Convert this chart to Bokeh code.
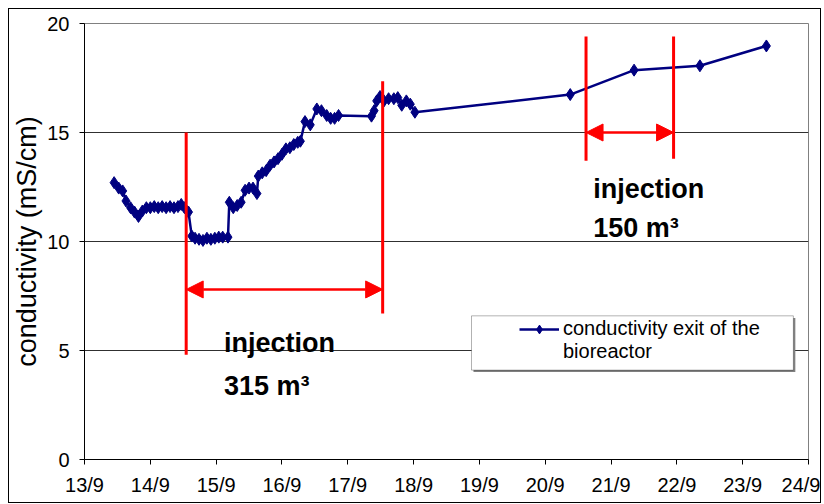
from bokeh.plotting import figure
from bokeh.models import (FixedTicker, Legend, LegendItem, Arrow, NormalHead,
                          ColumnDataSource, Range1d, BoxAnnotation)
from bokeh.core.properties import value
from bokeh.embed import file_html
from bokeh.resources import INLINE

# ---- data (day of September, conductivity mS/cm) ----
day = [13.45, 13.52, 13.58, 13.63, 13.70, 13.76, 13.82, 13.88, 13.94, 14.00,
       14.06, 14.12, 14.18, 14.24, 14.30, 14.36, 14.42, 14.47, 14.52, 14.58,
       14.63, 14.68, 14.74, 14.80, 14.86, 14.92, 14.98, 15.04, 15.10, 15.18,
       15.20, 15.26, 15.32, 15.38, 15.44, 15.50, 15.56, 15.62, 15.64, 15.70,
       15.76, 15.82, 15.88, 15.94, 16.00, 16.06, 16.12, 16.18, 16.24, 16.28,
       16.35, 16.43, 16.53, 16.60, 16.68, 16.74, 16.80, 16.86, 17.36, 17.40,
       17.44, 17.49, 17.55, 17.62, 17.70, 17.76, 17.82, 17.89, 17.95, 18.02,
       20.38, 21.35, 22.35, 23.36]
conductivity = [12.70, 12.45, 12.32, 11.86, 11.55, 11.35, 11.15, 11.40, 11.55, 11.55,
                11.60, 11.55, 11.60, 11.55, 11.60, 11.55, 11.60, 11.70, 11.55, 11.35,
                10.25, 10.15, 10.10, 10.05, 10.15, 10.10, 10.15, 10.20, 10.20, 10.20,
                11.80, 11.55, 11.65, 11.80, 12.35, 12.45, 12.45, 12.20, 13.00, 13.15,
                13.25, 13.50, 13.65, 13.80, 14.00, 14.25, 14.30, 14.45, 14.55, 14.60,
                15.50, 15.35, 16.08, 16.00, 15.78, 15.65, 15.65, 15.78, 15.75, 16.00,
                16.45, 16.65, 16.45, 16.55, 16.55, 16.60, 16.25, 16.45, 16.30, 15.93,
                16.74, 17.86, 18.06, 18.97]

x_ticks = list(range(13, 25))
x_tick_labels = ["13/9", "14/9", "15/9", "16/9", "17/9", "18/9",
                 "19/9", "20/9", "21/9", "22/9", "23/9", "24/9"]
y_ticks = [0, 5, 10, 15, 20]
y_grid = [5, 10, 15]

# injection periods: start, end, y-extent of start/end markers, arrow level
inj_start = [14.545, 20.62]
inj_end = [17.53, 21.95]
start_bottom = [4.8, 13.7]
start_top = [15.0, 19.4]
end_bottom = [6.7, 13.8]
end_top = [17.35, 19.4]
arrow_y = [7.8, 15.0]
inj_text_x = [15.12, 20.73]
inj_text_y1 = [5.35, 12.4]
inj_text_y2 = [3.36, 10.6]
inj_label1 = ["injection", "injection"]
inj_label2 = ["315 m\u00b3", "150 m\u00b3"]

legend_label = ["conductivity exit of the", "bioreactor"]

FONT = "Liberation Sans"
NAVY = "#000080"
RED = "#FF0000"

p = figure(width=813, height=495, output_backend="svg", toolbar_location=None,
           x_range=Range1d(13, 24), y_range=Range1d(0, 20),
           min_border_left=71, min_border_right=14, min_border_top=14,
           min_border_bottom=45,
           styles={"border": "1px solid black", "box-sizing": "border-box",
                   "margin-left": "8px", "margin-top": "8px"})
p.background_fill_color = "white"
p.border_fill_color = "white"
p.outline_line_color = "#808080"
p.outline_line_width = 1

p.xgrid.visible = False
p.ygrid.ticker = FixedTicker(ticks=y_grid)
p.ygrid.grid_line_color = "#303030"
p.ygrid.grid_line_width = 1

p.xaxis.ticker = FixedTicker(ticks=x_ticks)
p.xaxis.major_label_overrides = {t: l for t, l in zip(x_ticks, x_tick_labels)}
p.yaxis.ticker = FixedTicker(ticks=y_ticks)
for ax in (p.xaxis, p.yaxis):
    ax.axis_line_color = "black"
    ax.major_tick_line_color = "black"
    ax.major_tick_out = 5
    ax.major_tick_in = 0
    ax.minor_tick_line_color = None
    ax.major_label_text_font = FONT
    ax.major_label_text_font_size = "20px"
    ax.major_label_text_color = "black"
p.xaxis.major_label_standoff = 9
p.yaxis.major_label_standoff = 10
p.yaxis.axis_label = "conductivity (mS/cm)"
p.yaxis.axis_label_text_font = FONT
p.yaxis.axis_label_text_font_size = "27px"
p.yaxis.axis_label_text_font_style = "normal"
p.yaxis.axis_label_text_color = "black"
p.yaxis.axis_label_standoff = 2

# legend frame with shadow (drawn behind the legend)
p.add_layout(BoxAnnotation(left=18.91, right=23.80, bottom=4.01, top=6.49,
                           fill_color="#808080", fill_alpha=1,
                           line_color=None, level="annotation"))
p.add_layout(BoxAnnotation(left=18.88, right=23.77, bottom=4.10, top=6.59,
                           fill_color="white", fill_alpha=1,
                           line_color="black", line_width=1,
                           level="annotation"))

src = ColumnDataSource(dict(x=day, y=conductivity))
lr = p.line("x", "y", source=src, line_color=NAVY, line_width=2.5)
sr = p.scatter("x", "y", source=src, marker="diamond", size=12,
               fill_color=NAVY, line_color=NAVY)
# invisible renderer for the second legend line
blank = p.scatter(x=[], y=[], size=1, fill_alpha=0, line_alpha=0)

# injection markers
p.segment(x0=inj_start, y0=start_bottom, x1=inj_start, y1=start_top,
          line_color=RED, line_width=3)
p.segment(x0=inj_end, y0=end_bottom, x1=inj_end, y1=end_top,
          line_color=RED, line_width=3)
for xs, xe, ya in zip(inj_start, inj_end, arrow_y):
    p.add_layout(Arrow(x_start=xs, y_start=ya, x_end=xe, y_end=ya,
                       line_color=RED, line_width=2.5,
                       start=NormalHead(size=17, fill_color=RED, line_color=RED),
                       end=NormalHead(size=17, fill_color=RED, line_color=RED)))

p.text(x=inj_text_x, y=inj_text_y1, text=inj_label1, text_font=value(FONT),
       text_font_size="27px", text_font_style="bold", text_color="black",
       text_baseline="alphabetic", text_align="left")
p.text(x=inj_text_x, y=inj_text_y2, text=inj_label2, text_font=value(FONT),
       text_font_size="27px", text_font_style="bold", text_color="black",
       text_baseline="alphabetic", text_align="left")

legend = Legend(items=[LegendItem(label=legend_label[0], renderers=[lr, sr]),
                       LegendItem(label=legend_label[1], renderers=[blank])],
                location=(435, 96), orientation="vertical")
legend.label_text_font = FONT
legend.label_text_font_size = "20px"
legend.label_text_color = "black"
legend.glyph_width = 40
legend.glyph_height = 22
legend.label_height = 22
legend.label_standoff = 4
legend.spacing = 0
legend.border_line_color = None
legend.background_fill_alpha = 0
legend.padding = 0
legend.margin = 0
p.add_layout(legend, "center")

open("out.html", "w").write(file_html(p, INLINE))
